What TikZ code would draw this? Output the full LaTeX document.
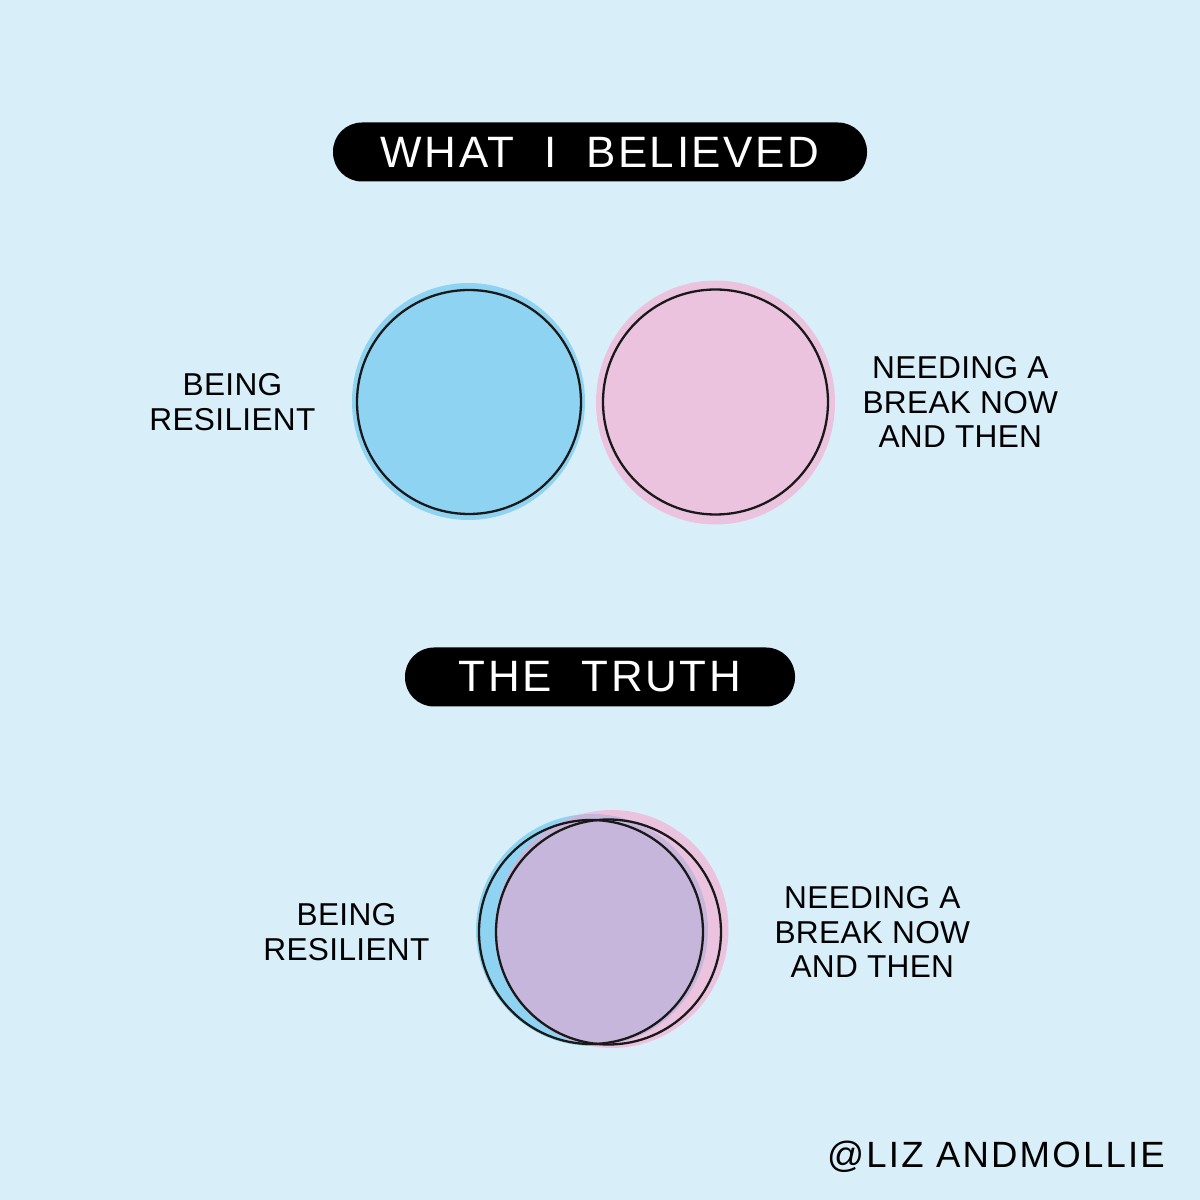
\documentclass[tikz,border=0pt]{standalone}
\usepackage{fontspec}
\setmainfont{Liberation Sans}
\newfontfamily\handfont[LetterSpace=6]{Liberation Sans}
\newfontfamily\labelfont[LetterSpace=1]{Liberation Sans}
\usetikzlibrary{positioning}
\definecolor{skybg}{HTML}{D8EFFA}
\definecolor{blobblue}{HTML}{8FD3F2}
\definecolor{blobpink}{HTML}{ECC3DF}
\definecolor{blobmix}{HTML}{C6B6DC}

\begin{document}
\begin{tikzpicture}

    \tikzstyle{pill} = [rectangle, rounded corners=0.29cm, fill=black, text=white, minimum height=0.59cm, font=\handfont\fontsize{12.5}{14}\selectfont, inner sep=0pt]
    \tikzstyle{ring} = [circle, draw=black!90, line width=0.65pt, minimum size=2.24cm, inner sep=0pt]
    \tikzstyle{label} = [align=center, font=\labelfont\fontsize{9}{9.9}\selectfont]

    \useasboundingbox (0,0) rectangle (12,12);
    \fill[skybg] (0,0) rectangle (12,12);

    % what I believed
    \node (believed) [pill, minimum width=5.34cm] at (6,10.48) {WHAT\ \ I\ \ BELIEVED};

    \fill[blobblue] (4.685,7.985) ellipse [x radius=1.165, y radius=1.185];
    \fill[blobpink] (7.155,7.975) ellipse [x radius=1.195, y radius=1.22];
    \node (resilient) [ring] at (4.69,7.98) {};
    \node (rest) [ring, minimum size=2.25cm] at (7.155,7.98) {};

    \node (resilientText) [label, left=0.28cm of resilient] {BEING\\RESILIENT};
    \node (restText) [label, right=0.21cm of rest] {NEEDING A\\BREAK NOW\\AND THEN};

    % the truth
    \node (truth) [pill, minimum width=3.90cm] at (6,5.23) {THE\ \ TRUTH};

    \fill[blobblue] (5.92,2.70) circle [radius=1.16];
    \fill[blobpink] (6.12,2.71) ellipse [x radius=1.165, y radius=1.19];
    \begin{scope}
        \clip (5.92,2.70) circle [radius=1.16];
        \fill[blobmix] (6.12,2.71) ellipse [x radius=1.165, y radius=1.19];
    \end{scope}
    \node (resilientB) [ring] at (5.91,2.68) {};
    \node (restB) [ring, minimum size=2.25cm] at (6.085,2.68) {};

    \node (resilientBText) [label, left=0.36cm of resilientB] {BEING\\RESILIENT};
    \node (restBText) [label, right=0.40cm of restB] {NEEDING A\\BREAK NOW\\AND THEN};

    \node (credit) [font=\handfont\fontsize{10.4}{11}\selectfont] at (9.96,0.43) {@LIZ ANDMOLLIE};

\end{tikzpicture}
\end{document}
